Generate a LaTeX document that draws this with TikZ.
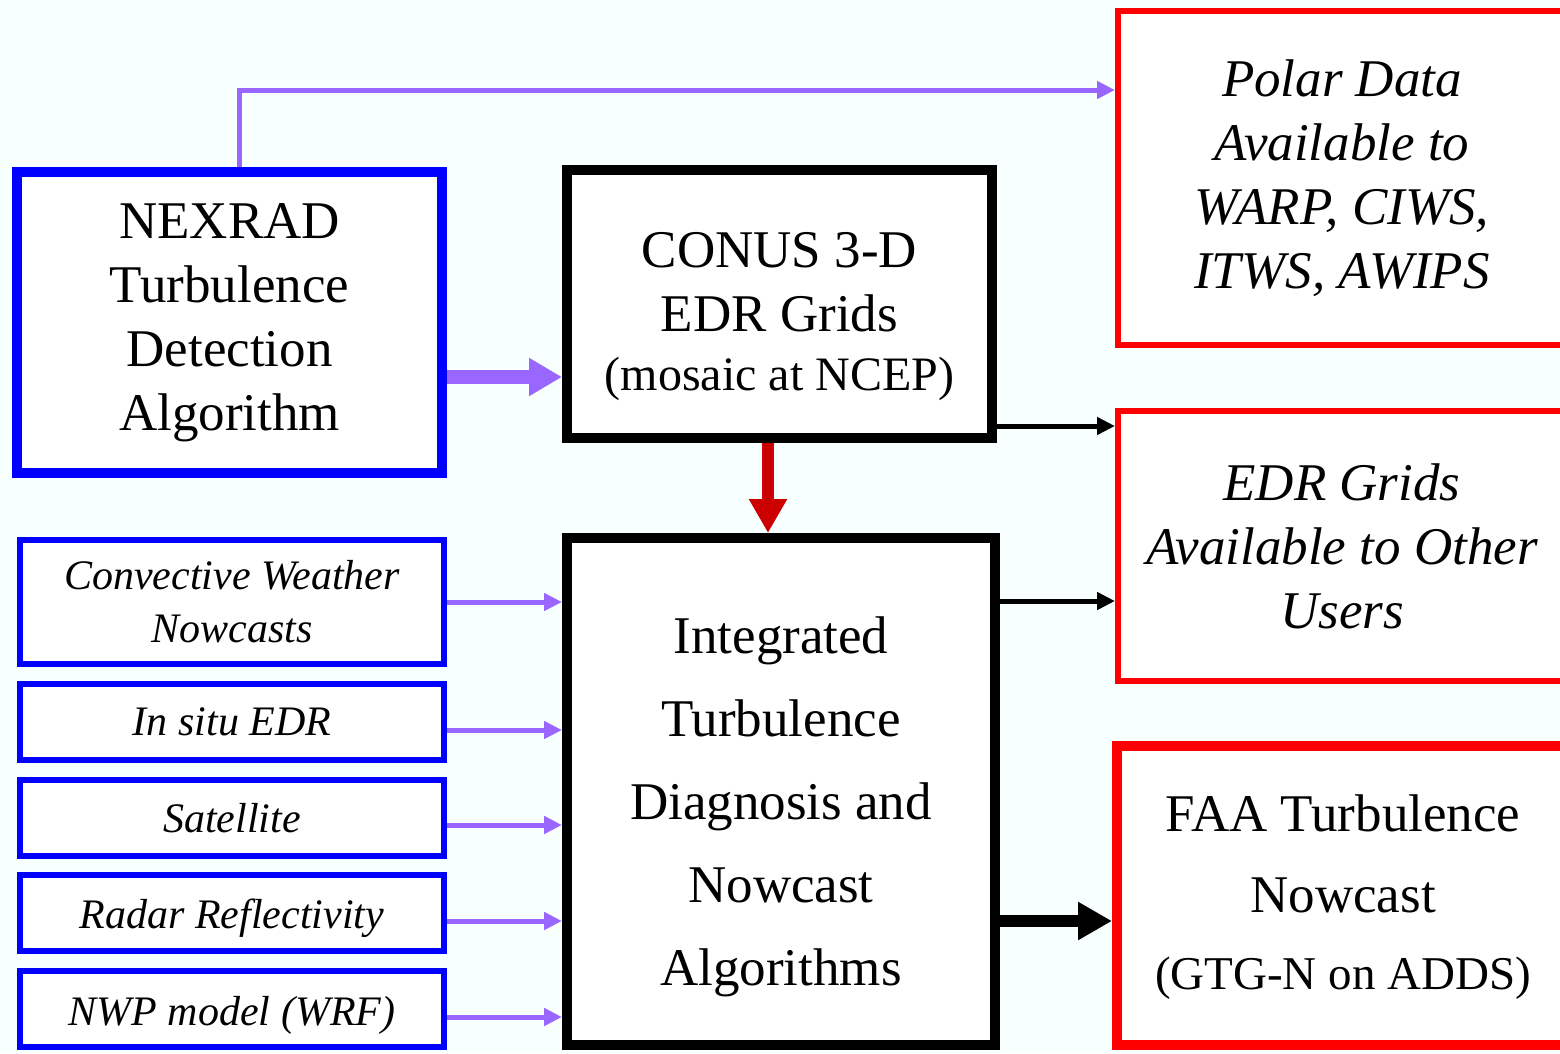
\documentclass[tikz,border=0pt]{standalone}
\usepackage{fontspec}
\setmainfont{Liberation Serif}
\usetikzlibrary{arrows.meta}
\definecolor{bg}{HTML}{F8FFFF}
\definecolor{purp}{HTML}{9966FF}
\definecolor{darkred}{HTML}{CC0000}
\definecolor{pblue}{HTML}{0000FF}
\definecolor{pred}{HTML}{FF0000}
\begin{document}
\begin{tikzpicture}[x=1pt,y=-1pt,
  box/.style={draw, fill=white, inner sep=0pt, align=center},
  bigtext/.style={font=\fontsize{53}{64}\selectfont},
  smalltext/.style={font=\fontsize{42}{53}\selectfont\itshape},
  bluebig/.style={box, draw=pblue, line width=10pt, bigtext},
  bluesmall/.style={box, draw=pblue, line width=6pt, smalltext, minimum width=424pt},
  blackbox/.style={box, draw=black, line width=10pt, bigtext},
  redthin/.style={box, draw=pred, line width=6pt, font=\fontsize{53}{64}\selectfont\itshape},
  redthick/.style={box, draw=pred, line width=10pt, bigtext},
  parr/.style={draw=purp, line width=5pt, -{Triangle[length=18pt,width=17pt]}},
  bigparr/.style={draw=purp, line width=14pt, -{Triangle[length=33pt,width=36pt]}},
  redarr/.style={draw=darkred, line width=12pt, -{Triangle[length=34pt,width=36pt]}},
  blkarr/.style={draw=black, line width=5pt, -{Triangle[length=18pt,width=17pt]}},
  bigblkarr/.style={draw=black, line width=12pt, -{Triangle[length=34pt,width=36pt]}}
]
\useasboundingbox (0,0) rectangle (1560,1053);
\clip (0,0) rectangle (1560,1053);
\fill[bg] (0,0) rectangle (1560,1053);

% main boxes
\node[bluebig, minimum width=425pt, minimum height=301pt] (nexrad) at (229.5,322.5)
  {NEXRAD\\Turbulence\\Detection\\Algorithm};
\node[blackbox, minimum width=425pt, minimum height=268pt] (conus) at (779.5,304)
  {\rule{0pt}{60pt}CONUS 3-D\\EDR Grids\\[-5pt]{\fontsize{48}{61}\selectfont (mosaic at NCEP)}};
\node[blackbox, minimum width=428pt, minimum height=507pt,
  font=\fontsize{53}{83}\selectfont] (integ) at (781,791.5)
  {\rule{0pt}{67pt}Integrated\\Turbulence\\Diagnosis and\\Nowcast\\Algorithms};
\node[redthin, minimum width=448pt, minimum height=334pt] (polar) at (1342,178)
  {Polar Data\\Available to\\WARP, CIWS,\\ITWS, AWIPS};
\node[redthin, minimum width=448pt, minimum height=270pt] (edr) at (1342,546)
  {EDR Grids\\Available to Other\\Users};
\node[redthick, minimum width=452pt, minimum height=299pt,
  font=\fontsize{53}{81}\selectfont] (faa) at (1343,895.5)
  {\rule{0pt}{40pt}FAA Turbulence\\Nowcast\\[-4pt]{\fontsize{47}{79}\selectfont (GTG-N on ADDS)}};

% small input boxes
\node[bluesmall, minimum height=124pt] (conv) at (232,602) {Convective Weather\\Nowcasts};
\node[bluesmall, minimum height=76pt] (insitu) at (232,722) {In situ EDR};
\node[bluesmall, minimum height=76pt] (sat) at (232,818) {Satellite};
\node[bluesmall, minimum height=76pt] (radar) at (232,913) {\rule{0pt}{40pt}Radar Reflectivity};
\node[bluesmall, minimum height=76pt] (nwp) at (232,1009) {\rule{0pt}{42pt}NWP model (WRF)};

% connectors
\draw[parr] ([xshift=9.5pt]nexrad.north) |- ([yshift=88pt]polar.west);
\draw[bigparr] ([yshift=-54.5pt]nexrad.east) -- ([yshift=-54.5pt]nexrad.east -| conus.west);
\draw[blkarr] ([yshift=-122pt]conus.east) -- ([yshift=-122pt]conus.east -| edr.west);
\draw[redarr] ([xshift=-11.5pt]conus.south) -- ([xshift=-11.5pt]conus.south |- integ.north);
\draw[blkarr] ([yshift=190.5pt]integ.east) -- ([yshift=190.5pt]integ.east -| edr.west);
\draw[bigblkarr] ([yshift=-129.5pt]integ.east) -- ([yshift=-129.5pt]integ.east -| faa.west);

\draw[parr] (conv.east) -- (conv.east -| integ.west);
\draw[parr] ([yshift=-8pt]insitu.east) -- ([yshift=-8pt]insitu.east -| integ.west);
\draw[parr] ([yshift=-7pt]sat.east) -- ([yshift=-7pt]sat.east -| integ.west);
\draw[parr] ([yshift=-8pt]radar.east) -- ([yshift=-8pt]radar.east -| integ.west);
\draw[parr] ([yshift=-8pt]nwp.east) -- ([yshift=-8pt]nwp.east -| integ.west);
\end{tikzpicture}
\end{document}
